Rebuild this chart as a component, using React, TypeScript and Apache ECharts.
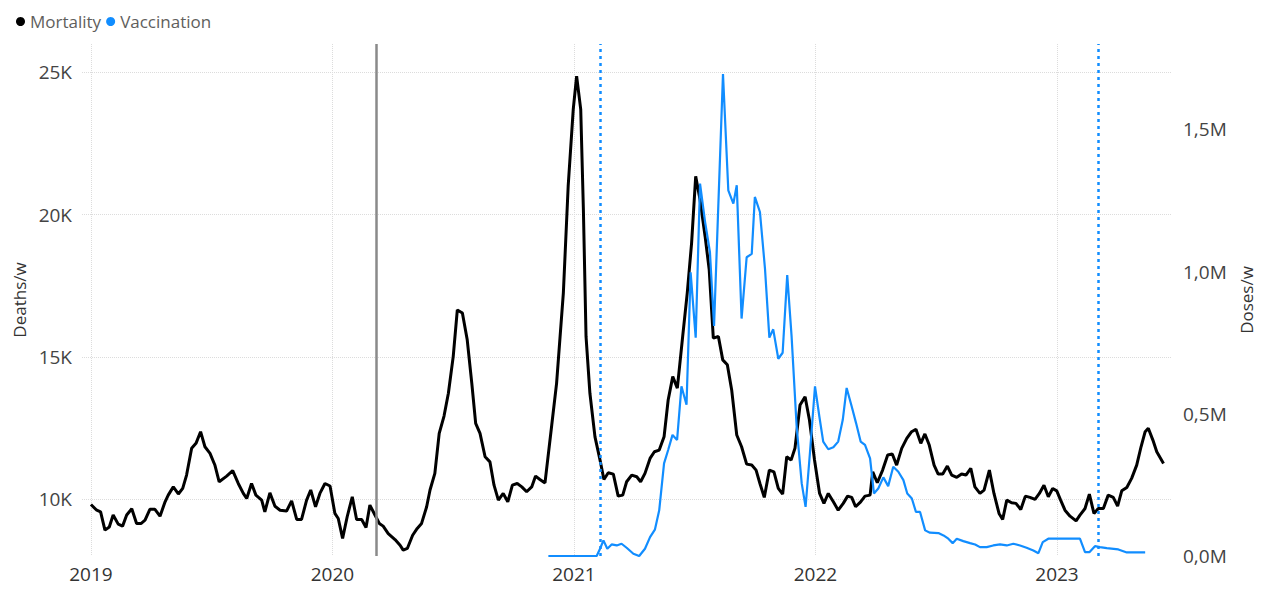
import React, { useEffect, useRef } from "react";
import * as echarts from "echarts";

const yearTicks = [2019, 2020, 2021, 2022, 2023];
const deathTicks = [10000, 15000, 20000, 25000];
const doseTicks = [0, 500000, 1000000, 1500000];

// Weekly mortality (x = decimal year of the week, y = deaths per week)
const mortalityT = [
  2019.0, 2019.024, 2019.04, 2019.058, 2019.076, 2019.092, 2019.113, 2019.131, 2019.148, 2019.169,
  2019.189, 2019.207, 2019.224, 2019.244, 2019.265, 2019.286, 2019.307, 2019.32, 2019.341, 2019.362,
  2019.38, 2019.396, 2019.417, 2019.435, 2019.454, 2019.472, 2019.493, 2019.513, 2019.531, 2019.562,
  2019.587, 2019.61, 2019.631, 2019.645, 2019.665, 2019.683, 2019.707, 2019.72, 2019.741, 2019.762,
  2019.783, 2019.81, 2019.831, 2019.852, 2019.872, 2019.893, 2019.91, 2019.93, 2019.948, 2019.969,
  2019.99, 2020.01, 2020.024, 2020.042, 2020.061, 2020.082, 2020.1, 2020.121, 2020.139, 2020.155,
  2020.176, 2020.194, 2020.21, 2020.231, 2020.259, 2020.28, 2020.293, 2020.31, 2020.332, 2020.351,
  2020.369, 2020.39, 2020.404, 2020.424, 2020.442, 2020.462, 2020.48, 2020.5, 2020.517, 2020.538,
  2020.558, 2020.577, 2020.593, 2020.611, 2020.632, 2020.652, 2020.669, 2020.687, 2020.707, 2020.726,
  2020.745, 2020.765, 2020.784, 2020.804, 2020.825, 2020.841, 2020.859, 2020.88, 2020.908, 2020.928,
  2020.956, 2020.976, 2020.997, 2021.011, 2021.028, 2021.039, 2021.05, 2021.066, 2021.087, 2021.108,
  2021.124, 2021.142, 2021.163, 2021.183, 2021.202, 2021.218, 2021.239, 2021.26, 2021.276, 2021.294,
  2021.315, 2021.333, 2021.353, 2021.373, 2021.39, 2021.409, 2021.428, 2021.45, 2021.469, 2021.487,
  2021.504, 2021.522, 2021.543, 2021.56, 2021.577, 2021.598, 2021.616, 2021.635, 2021.653, 2021.674,
  2021.694, 2021.715, 2021.736, 2021.754, 2021.77, 2021.788, 2021.809, 2021.828, 2021.846, 2021.864,
  2021.881, 2021.899, 2021.915, 2021.936, 2021.957, 2021.975, 2021.996, 2022.017, 2022.035, 2022.053,
  2022.074, 2022.094, 2022.115, 2022.133, 2022.15, 2022.166, 2022.187, 2022.205, 2022.226, 2022.237,
  2022.256, 2022.278, 2022.299, 2022.318, 2022.336, 2022.357, 2022.378, 2022.398, 2022.416, 2022.436,
  2022.453, 2022.471, 2022.491, 2022.508, 2022.527, 2022.546, 2022.564, 2022.585, 2022.605, 2022.623,
  2022.643, 2022.66, 2022.681, 2022.698, 2022.72, 2022.739, 2022.76, 2022.775, 2022.792, 2022.812,
  2022.83, 2022.85, 2022.869, 2022.888, 2022.909, 2022.927, 2022.946, 2022.964, 2022.982, 2022.999,
  2023.015, 2023.033, 2023.054, 2023.079, 2023.095, 2023.116, 2023.134, 2023.153, 2023.171, 2023.192,
  2023.212, 2023.233, 2023.251, 2023.268, 2023.289, 2023.309, 2023.33, 2023.348, 2023.365, 2023.378,
  2023.397, 2023.413, 2023.441,
];
const mortalityV = [
  9810, 9610, 9550, 8910, 9020, 9440, 9120, 9050, 9440, 9660,
  9140, 9140, 9260, 9640, 9640, 9400, 9905, 10140, 10430, 10180,
  10380, 10845, 11785, 11960, 12370, 11840, 11610, 11200, 10610, 10810,
  11000, 10550, 10200, 10020, 10550, 10140, 9965, 9550, 10220, 9750,
  9610, 9580, 9940, 9285, 9285, 9965, 10320, 9730, 10200, 10550,
  10460, 9500, 9320, 8620, 9380, 10080, 9285, 9285, 9000, 9790,
  9440, 9145, 9050, 8790, 8580, 8380, 8205, 8265, 8730, 8970,
  9145, 9730, 10320, 10905, 12310, 12920, 13720, 15010, 16650, 16540,
  15600, 14070, 12660, 12310, 11490, 11310, 10490, 9965, 10200, 9905,
  10490, 10550, 10430, 10260, 10430, 10810, 10690, 10570, 12605, 14070,
  17240, 21000, 23700, 24870, 23700, 20170, 15710, 13720, 12190, 11370,
  10690, 10925, 10880, 10105, 10140, 10610, 10845, 10785, 10610, 10905,
  11430, 11665, 11725, 12190, 13485, 14305, 13900, 15715, 17240, 19000,
  21350, 20525, 19235, 18060, 15660, 15715, 14895, 14720, 13840, 12255,
  11840, 11230, 11200, 11020, 10550, 10060, 11020, 10960, 10375, 10175,
  11490, 11370, 11785, 13310, 13600, 12780, 11375, 10200, 9850, 10200,
  9905, 9610, 9850, 10105, 10060, 9730, 9905, 10105, 10140, 10960,
  10575, 11020, 11550, 11585, 11195, 11785, 12135, 12370, 12455, 11960,
  12290, 11900, 11195, 10880, 10880, 11160, 10845, 10765, 10880, 10845,
  11080, 10430, 10200, 10315, 11020, 10200, 9495, 9285, 9965, 9870,
  9850, 9635, 10105, 10060, 9990, 10200, 10490, 10080, 10375, 10290,
  9965, 9610, 9400, 9235, 9435, 9670, 10175, 9495, 9670, 9670,
  10140, 10060, 9755, 10290, 10410, 10730, 11195, 11840, 12370, 12490,
  12075, 11665, 11255,
];

// Weekly vaccination doses (x = decimal year of the week, y = doses per week)
const vaccinationT = [
  2020.894, 2021.094, 2021.108, 2021.122, 2021.138, 2021.156, 2021.177, 2021.197, 2021.218, 2021.246,
  2021.27, 2021.294, 2021.315, 2021.335, 2021.353, 2021.373, 2021.39, 2021.408, 2021.427, 2021.445,
  2021.466, 2021.483, 2021.504, 2021.522, 2021.543, 2021.563, 2021.58, 2021.617, 2021.639, 2021.66,
  2021.674, 2021.694, 2021.715, 2021.736, 2021.749, 2021.77, 2021.791, 2021.809, 2021.825, 2021.846,
  2021.864, 2021.883, 2021.901, 2021.922, 2021.943, 2021.959, 2021.977, 2021.998, 2022.016, 2022.032,
  2022.053, 2022.074, 2022.094, 2022.113, 2022.129, 2022.15, 2022.168, 2022.187, 2022.205, 2022.226,
  2022.242, 2022.26, 2022.281, 2022.301, 2022.322, 2022.343, 2022.364, 2022.38, 2022.399, 2022.416,
  2022.433, 2022.454, 2022.474, 2022.509, 2022.53, 2022.55, 2022.568, 2022.585, 2022.612, 2022.64,
  2022.661, 2022.681, 2022.709, 2022.736, 2022.764, 2022.792, 2022.819, 2022.847, 2022.874, 2022.902,
  2022.923, 2022.941, 2022.964, 2023.095, 2023.116, 2023.134, 2023.157, 2023.178, 2023.206, 2023.254,
  2023.289, 2023.365,
];
const vaccinationV = [
  0, 0, 25400, 54800, 25400, 40600, 37100, 43100, 29000, 7800,
  0, 25400, 66400, 92600, 160800, 325800, 372800, 425800, 408200, 596500,
  531900, 997300, 767600, 1309300, 1174000, 1068000, 808600, 1694600, 1285700, 1238700,
  1303300, 834700, 1050300, 1062000, 1262300, 1209300, 1008900, 767600, 796900, 693400,
  714600, 987700, 773200, 455200, 255200, 172500, 362200, 596500, 490500, 402200,
  375300, 382400, 402200, 478900, 590900, 525800, 467200, 402200, 390500, 343500,
  219800, 237500, 276400, 245600, 313800, 296100, 266800, 219800, 202100, 154800,
  154800, 90100, 82000, 80600, 72400, 60800, 45200, 60800, 52300, 45200,
  40600, 31100, 31100, 37100, 40600, 37100, 43100, 37100, 29000, 19400,
  9900, 48800, 60800, 60800, 13400, 13400, 34600, 31100, 27600, 23000,
  12400, 12400,
];

// Reference events (decimal year)
const solidMarks = [2020.18];
const dottedMarks = [2021.108, 2023.17];

const FONT = "'Segoe UI', 'Open Sans', 'Noto Sans', sans-serif";

export default function App() {
  const ref = useRef<HTMLDivElement>(null);
  useEffect(() => {
    const chart = echarts.init(ref.current!, null, { renderer: "svg" });
    const mortality = mortalityT.map((t, i) => [t, mortalityV[i]]);
    const vaccination = vaccinationT.map((t, i) => [t, vaccinationV[i]]);
    chart.setOption({
      animation: false,
      textStyle: { fontFamily: FONT },
      legend: {
        data: ["Mortality", "Vaccination"],
        left: 11,
        top: 8,
        icon: "circle",
        itemWidth: 9,
        itemHeight: 9,
        itemGap: 5,
        textStyle: { fontSize: 17, color: "#605E5C", fontFamily: FONT },
      },
      grid: { left: 82, right: 92, top: 44, bottom: 34 },
      xAxis: {
        type: "value",
        min: 2018.963,
        max: 2023.472,
        axisLine: { show: false },
        axisTick: { show: false, customValues: yearTicks },
        axisLabel: {
          customValues: yearTicks,
          formatter: (v: number) => String(Math.round(v)),
          fontSize: 19,
          color: "#333",
          margin: 8,
          fontFamily: FONT,
        },
        splitLine: { show: true, lineStyle: { type: "dotted", color: "#dcdcdc", width: 1 } },
      },
      yAxis: [
        {
          type: "value",
          min: 8000,
          max: 26000,
          name: "Deaths/w",
          nameLocation: "middle",
          nameRotate: 90,
          nameGap: 52,
          nameTextStyle: { fontSize: 17, color: "#333", fontFamily: FONT },
          axisLine: { show: false },
          axisTick: { show: false, customValues: deathTicks },
          axisLabel: {
            customValues: deathTicks,
            formatter: (v: number) => `${Math.round(v / 1000)}K`,
            fontSize: 19,
            color: "#444",
            margin: 10,
            fontFamily: FONT,
          },
          splitLine: { show: true, lineStyle: { type: "dotted", color: "#dcdcdc", width: 1 } },
        },
        {
          type: "value",
          min: 0,
          max: 1800000,
          position: "right",
          name: "Doses/w",
          nameLocation: "middle",
          nameRotate: 90,
          nameGap: 66,
          nameTextStyle: { fontSize: 17, color: "#333", fontFamily: FONT },
          axisLine: { show: false },
          axisTick: { show: false, customValues: doseTicks },
          axisLabel: {
            customValues: doseTicks,
            formatter: (v: number) => `${(v / 1000000).toFixed(1).replace(".", ",")}M`,
            fontSize: 19,
            color: "#444",
            margin: 12,
            fontFamily: FONT,
          },
          splitLine: { show: false },
        },
      ],
      series: [
        {
          name: "Mortality",
          type: "line",
          yAxisIndex: 0,
          data: mortality,
          showSymbol: false,
          color: "#000000",
          lineStyle: { width: 3, color: "#000000" },
          z: 2,
          markLine: {
            silent: true,
            symbol: ["none", "none"],
            label: { show: false },
            lineStyle: { type: "solid", color: "#8a8a8a", width: 2.5 },
            data: solidMarks.map((t) => ({ xAxis: t })),
          },
        },
        {
          name: "Vaccination",
          type: "line",
          yAxisIndex: 1,
          data: vaccination,
          showSymbol: false,
          color: "#118DFF",
          lineStyle: { width: 2.2, color: "#118DFF" },
          z: 3,
          markLine: {
            silent: true,
            symbol: ["none", "none"],
            label: { show: false },
            lineStyle: { type: [3, 4], color: "#118DFF", width: 2.5 },
            data: dottedMarks.map((t) => ({ xAxis: t })),
          },
        },
      ],
    });
    return () => chart.dispose();
  }, []);
  return (
    <div
      ref={ref}
      style={{ position: "fixed", left: 0, top: 0, width: 1263, height: 590, background: "#fff" }}
    />
  );
}
